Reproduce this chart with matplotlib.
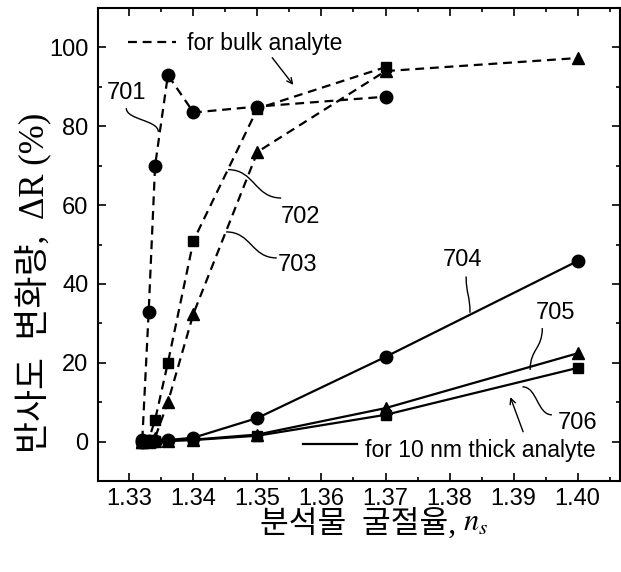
import numpy as np
import matplotlib
matplotlib.use("Agg")
from matplotlib import pyplot as plt
from matplotlib.path import Path
from matplotlib.patches import PathPatch
from matplotlib.ticker import MultipleLocator

plt.rcParams['font.family'] = ['Liberation Sans', 'Noto Sans CJK KR', 'DejaVu Sans']
plt.rcParams['mathtext.fontset'] = 'stix'

# refractive index of analyte
n_s = [1.332, 1.333, 1.334, 1.336, 1.340, 1.350, 1.370, 1.400]

# bulk analyte (dashed)
dr_701 = [0.5, 33.0, 70.0, 93.0, 83.5, 85.0, 87.5, np.nan]
dr_702 = [0.0, 0.5, 5.5, 20.0, 51.0, 84.5, 95.0, np.nan]
dr_703 = [0.0, 0.2, 1.0, 10.0, 32.5, 73.5, 94.0, 97.3]

# 10 nm thick analyte (solid)
dr_704 = [0.0, 0.1, 0.2, 0.4, 1.0, 6.0, 21.5, 45.8]
dr_705 = [0.0, 0.0, 0.1, 0.2, 0.5, 1.8, 8.5, 22.4]
dr_706 = [0.0, 0.0, 0.1, 0.2, 0.4, 1.5, 6.8, 18.7]

x_ticks = [1.33, 1.34, 1.35, 1.36, 1.37, 1.38, 1.39, 1.40]
y_ticks = [0, 20, 40, 60, 80, 100]

kor_serif = ['Liberation Serif', 'Noto Sans CJK KR']


def plot_series(ax, y, marker, ls):
    ax.plot(n_s, y, color='black', ls=ls, lw=1.6, marker=marker,
            ms=9 if marker != 's' else 7.5, mfc='black', mec='black',
            dashes=(4, 2.6) if ls == '--' else (None, None))


def leader(ax, label, line_pt, start, text_pt, mode='v'):
    # S-shaped leader from near the numeral to the curve
    x0, y0 = start
    x1, y1 = line_pt
    if mode == 'v':
        ym = (y0 + y1) / 2
        c1, c2 = (x0, ym), (x1, ym)
    else:
        xm = (x0 + x1) / 2
        c1, c2 = (xm, y0), (xm, y1)
    p = Path([start, c1, c2, line_pt],
             [Path.MOVETO, Path.CURVE4, Path.CURVE4, Path.CURVE4])
    ax.add_patch(PathPatch(p, fc='none', ec='black', lw=1.0))
    ax.text(text_pt[0], text_pt[1], label, fontsize=17, ha='center', va='center')


fig = plt.figure(figsize=(6.21, 5.72), dpi=100)
ax = fig.add_axes([0.158, 0.159, 0.84, 0.827])

plot_series(ax, dr_701, 'o', '--')
plot_series(ax, dr_702, 's', '--')
plot_series(ax, dr_703, '^', '--')
plot_series(ax, dr_704, 'o', '-')
plot_series(ax, dr_705, '^', '-')
plot_series(ax, dr_706, 's', '-')

ax.set_xlim(1.3251, 1.4066)
ax.set_ylim(-10, 110)
ax.set_xticks(x_ticks)
ax.set_xticklabels(['%.2f' % v for v in x_ticks])
ax.set_yticks(y_ticks)
ax.xaxis.set_minor_locator(MultipleLocator(0.005))
ax.yaxis.set_minor_locator(MultipleLocator(10))
ax.tick_params(which='both', direction='in', top=True, right=True, labelsize=17, width=1.2)
ax.tick_params(axis='x', which='major', pad=5)
ax.tick_params(axis='y', which='major', pad=7)
ax.tick_params(which='major', length=6)
ax.tick_params(which='minor', length=3)
for s in ax.spines.values():
    s.set_linewidth(1.5)

# axis titles (Korean + serif symbols)
fig.text(456 / 621, 1 - 524 / 572, '분석물  굴절율,', family=kor_serif,
         fontsize=22.5, weight='light', ha='right', va='center')
fig.text(463 / 621, 1 - 523 / 572, '$n_s$', fontsize=22, ha='left', va='center')
fig.text(33 / 621, 1 - 283 / 572, '반사도  변화량,  ΔR (%)', family=kor_serif,
         fontsize=25, weight='light', rotation=90, ha='center', va='center')

# legend-like labels
ax.plot([1.3297, 1.3372], [101.4, 101.4], color='black', lw=1.6, dashes=(4, 2.6))
ax.text(1.3390, 101.0, 'for bulk analyte', fontsize=16.5, va='center')
ax.annotate('', xy=(1.3556, 90.5), xytext=(1.3523, 97.4),
            arrowprops=dict(arrowstyle='->', color='black', lw=1.0, shrinkA=0, shrinkB=0))
ax.plot([1.3571, 1.3655], [-0.6, -0.6], color='black', lw=1.6)
ax.text(1.3668, -2.2, 'for 10 nm thick analyte', fontsize=16.5, va='center')
ax.annotate('', xy=(1.3895, 11.3), xytext=(1.3915, 2.5),
            arrowprops=dict(arrowstyle='->', color='black', lw=1.0, shrinkA=0, shrinkB=0))

# reference numerals
leader(ax, '701', (1.3345, 78.6), (1.3295, 84.6), (1.3295, 88.5), 'v')
leader(ax, '702', (1.3454, 69.0), (1.3537, 61.8), (1.3567, 57.0), 'h')
leader(ax, '703', (1.3451, 53.2), (1.3530, 46.6), (1.3562, 44.8), 'h')
leader(ax, '704', (1.3832, 32.7), (1.3826, 41.9), (1.3821, 46.1), 'v')
leader(ax, '705', (1.3926, 18.2), (1.3945, 28.8), (1.3965, 32.7), 'v')
leader(ax, '706', (1.3914, 13.9), (1.3960, 6.8), (1.4000, 4.7), 'h')

fig.savefig('out.png', dpi=100)
